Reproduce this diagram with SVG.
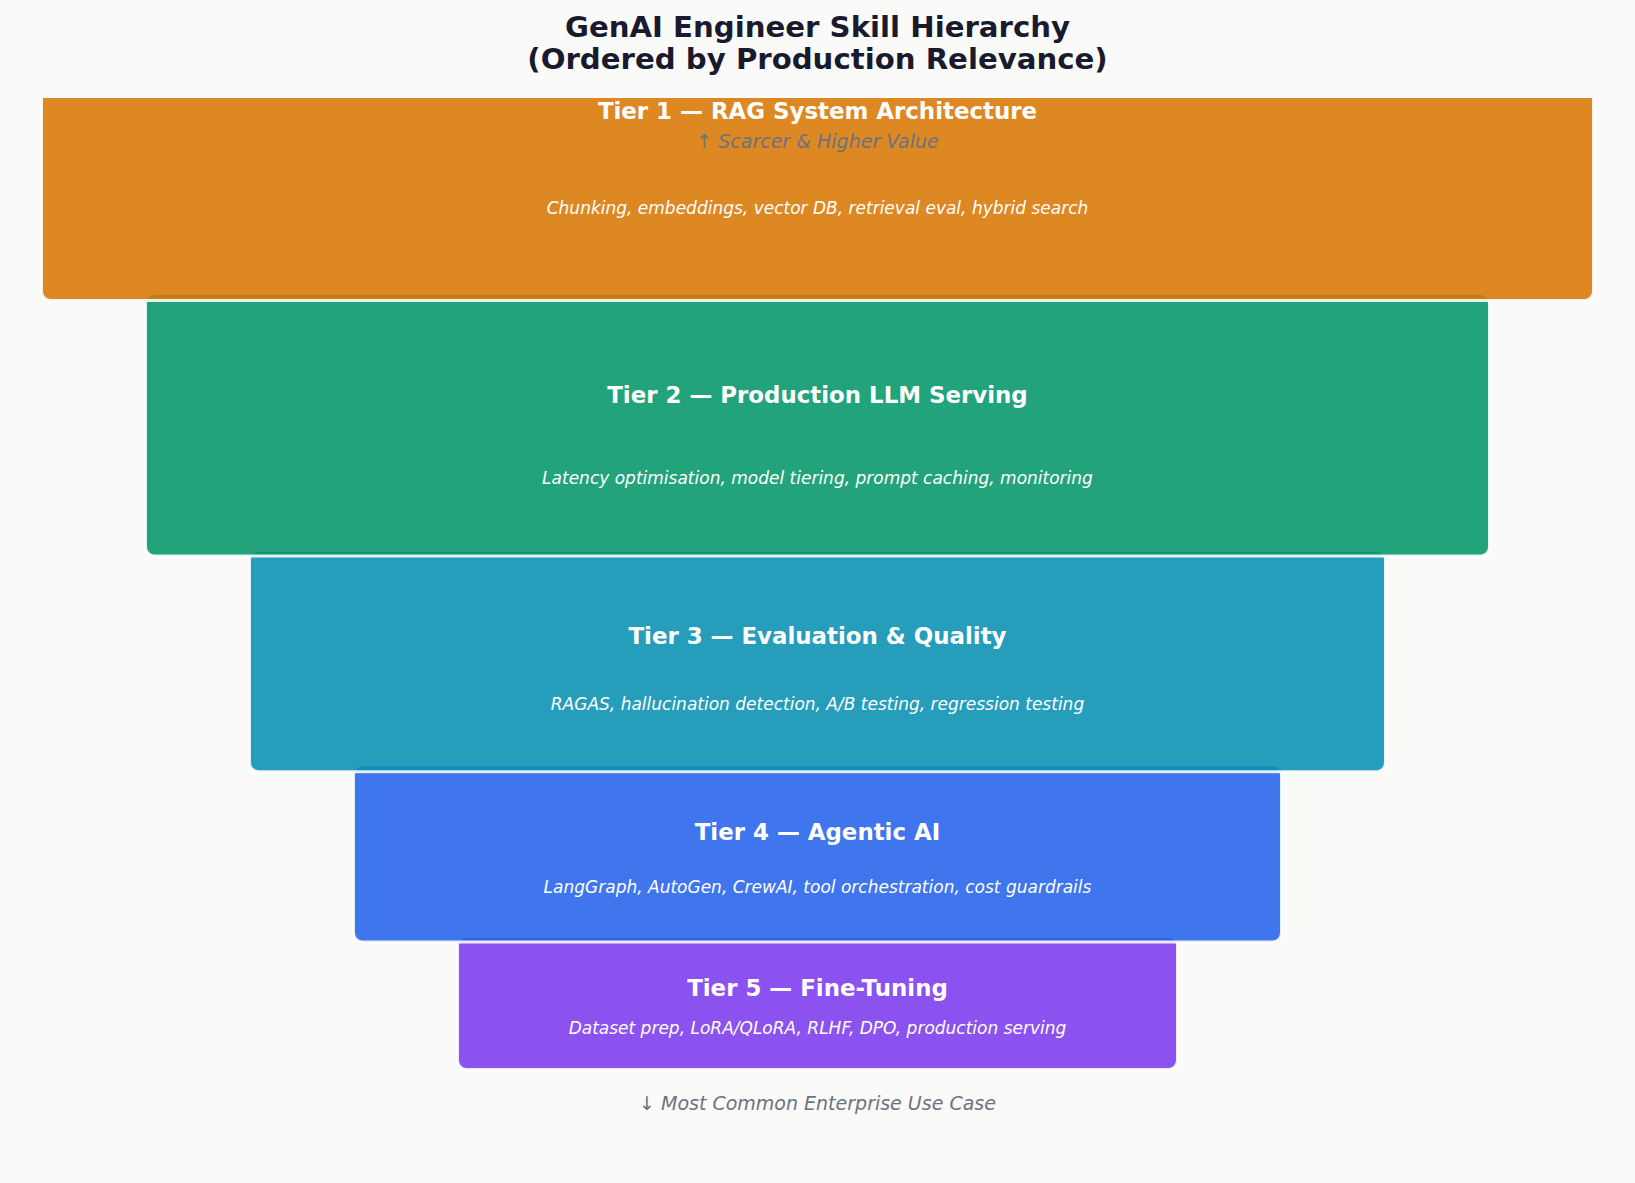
<svg xmlns="http://www.w3.org/2000/svg" width="1635" height="1183" viewBox="0 0 1635 1183">
<style>
.box{stroke:#ffffff;stroke-width:3;fill-opacity:0.88;stroke-opacity:0.88}
.tt{font-family:"DejaVu Sans","Liberation Sans",sans-serif;font-weight:bold;font-size:22.9px;fill:#ffffff;text-anchor:middle}
.td{font-family:"DejaVu Sans","Liberation Sans",sans-serif;font-style:italic;font-size:17px;fill:#ffffff;text-anchor:middle}
.note{font-family:"DejaVu Sans","Liberation Sans",sans-serif;font-style:italic;font-size:19px;fill:#6b7280;text-anchor:middle}
.title{font-family:"DejaVu Sans","Liberation Sans",sans-serif;font-weight:bold;font-size:29.2px;fill:#1a1a2e;text-anchor:middle}
</style>
<defs>
<clipPath id="axclip"><rect x="0" y="98" width="1635" height="1085"/></clipPath>
</defs>
<rect x="0" y="0" width="1635" height="1183" fill="#fafaf8"/>
<g id="title">
<text class="title" x="817.5" y="36.7">GenAI Engineer Skill Hierarchy</text>
<text class="title" x="817.5" y="68.5">(Ordered by Production Relevance)</text>
</g>
<g id="connectors"/>
<g clip-path="url(#axclip)">
<g id="tier5">
<rect class="box" x="457.5" y="936.5" width="720" height="133" rx="9" fill="#7C3AED"/>
<text class="tt" x="817.5" y="995.8">Tier 5 — Fine-Tuning</text>
<text class="td" x="817.5" y="1034">Dataset prep, LoRA/QLoRA, RLHF, DPO, production serving</text>
</g>
<g id="tier4">
<rect class="box" x="353.5" y="764.8" width="928" height="177.2" rx="9" fill="#2563EB"/>
<text class="tt" x="817.5" y="840">Tier 4 — Agentic AI</text>
<text class="td" x="817.5" y="893">LangGraph, AutoGen, CrewAI, tool orchestration, cost guardrails</text>
</g>
<g id="tier3">
<rect class="box" x="249.5" y="550.5" width="1136" height="221.2" rx="9" fill="#0891B2"/>
<text class="tt" x="817.5" y="644">Tier 3 — Evaluation &amp; Quality</text>
<text class="td" x="817.5" y="710">RAGAS, hallucination detection, A/B testing, regression testing</text>
</g>
<g id="tier2">
<rect class="box" x="145.5" y="293.5" width="1344" height="262.5" rx="9" fill="#059669"/>
<text class="tt" x="817.5" y="402.7">Tier 2 — Production LLM Serving</text>
<text class="td" x="817.5" y="484">Latency optimisation, model tiering, prompt caching, monitoring</text>
</g>
<g id="tier1">
<rect class="box" x="41.5" y="60" width="1552" height="240.5" rx="9" fill="#D97706"/>
<text class="tt" x="817.5" y="119.3">Tier 1 — RAG System Architecture</text>
<text class="td" x="817.5" y="214">Chunking, embeddings, vector DB, retrieval eval, hybrid search</text>
</g>
</g>
<g id="annotations">
<text class="note" x="817.5" y="147.5">↑ Scarcer &amp; Higher Value</text>
<text class="note" x="817.5" y="1110">↓ Most Common Enterprise Use Case</text>
</g>
</svg>
